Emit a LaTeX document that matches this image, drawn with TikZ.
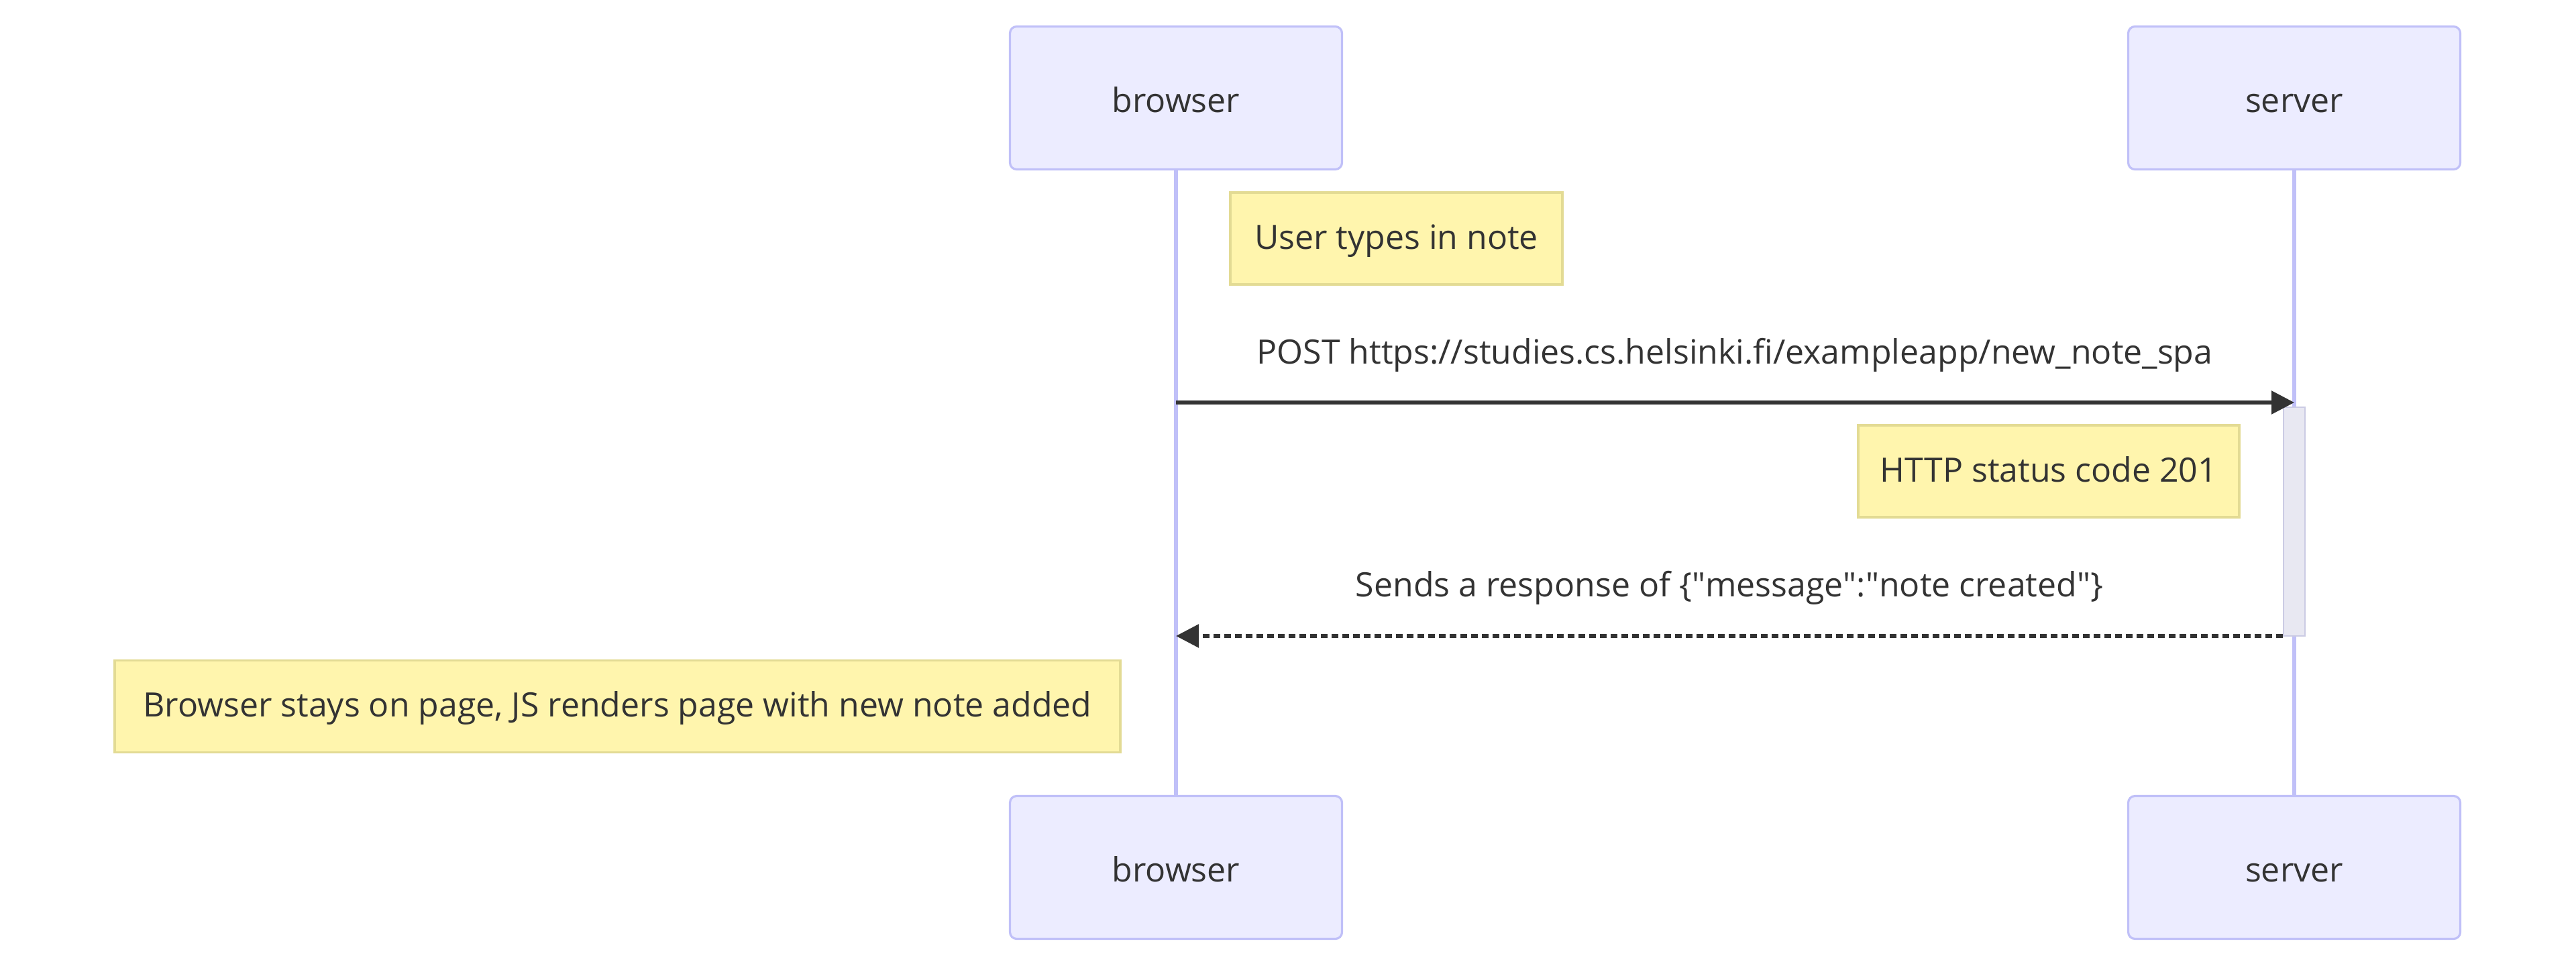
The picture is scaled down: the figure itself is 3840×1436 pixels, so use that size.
\documentclass[tikz,border=0pt]{standalone}
\usepackage{fontspec}
\setmainfont{Open Sans}
\usetikzlibrary{arrows.meta}
\definecolor{actorfill}{HTML}{ECECFF}
\definecolor{actorline}{HTML}{C0C0F8}
\definecolor{notefill}{HTML}{FFF5AD}
\definecolor{noteline}{HTML}{E3DB94}
\definecolor{actfill}{HTML}{E8E8F2}
\definecolor{actline}{HTML}{CBCBE4}
\definecolor{txt}{HTML}{333333}
\tikzset{
  basetext/.style={text=txt, font=\fontsize{12.5}{15}\selectfont, text height=10.6pt, text depth=0pt},
  actorbox/.style={basetext, draw=actorline, fill=actorfill, line width=0.8pt, rounded corners=2.5pt,
    minimum width=123.75pt, minimum height=53.25pt, inner sep=0pt},
  notebox/.style={basetext, text height=7.8pt, draw=noteline, fill=notefill, line width=0.8pt, inner sep=0pt,
    minimum height=34.25pt},
  lifeline/.style={draw=actorline, line width=1.4pt},
  msg/.style={draw=txt, line width=1.4pt, -{Triangle[length=8.5pt,width=8.5pt]}},
  reply/.style={msg, dash pattern=on 2.4pt off 1.6pt},
  msglabel/.style={basetext, text height=10pt, inner sep=0pt},
  actbox/.style={draw=actline, fill=actfill, line width=0.6pt, inner sep=0pt}
}
\begin{document}
\begin{tikzpicture}[x=0.25pt,y=-0.25pt]
\useasboundingbox[fill=white] (0,0) rectangle (3840,1436);
% actors
\node[actorbox] (bt) at (1753,146) {browser};
\node[actorbox] (st) at (3420,146) {server};
\node[actorbox] (bb) at (1753,1293) {browser};
\node[actorbox] (sb) at (3420,1293) {server};
% lifelines
\draw[lifeline] (bt.south) -- (bb.north);
\draw[lifeline] (st.south) -- (sb.north);
% activation
\node[actbox, minimum width=8pt, minimum height=85.25pt] (act) at (3420,777.5) {};
% note 1
\node[notebox, minimum width=123.75pt] (n1) at (2081.5,355.5) {User types in note};
% message 1
\coordinate (m1s) at (1753,600);
\coordinate (m1e) at (3420,600);
\draw[msg] (m1s) -- (m1e);
\node[msglabel] (l1) at (2586,522) {POST https://studies.cs.helsinki.fi/exampleapp/new\_note\_spa};
% note 2
\node[notebox, minimum width=142pt] (n2) at (3054,702.5) {HTTP status code 201};
% reply
\coordinate (m2s) at (act.south west |- 0,948);
\coordinate (m2e) at (1753,948);
\draw[reply] (m2s) -- (m2e);
\node[msglabel] (l2) at (2578,869) {Sends a response of \{\textquotedbl message\textquotedbl:\textquotedbl note created\textquotedbl\}};
% note 3
\node[notebox, minimum width=374.75pt] (n3) at (920.5,1053) {Browser stays on page, JS renders page with new note added};
\end{tikzpicture}
\end{document}
